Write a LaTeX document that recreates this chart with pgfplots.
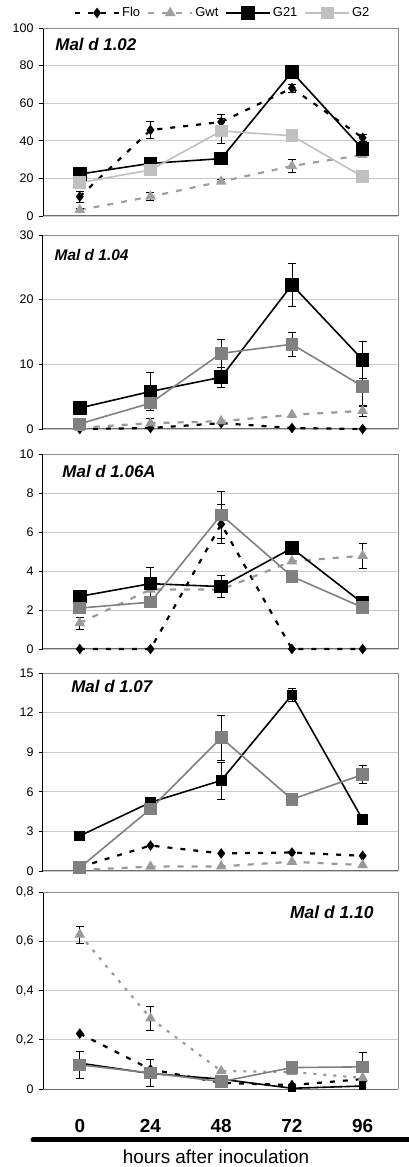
\documentclass[border=0pt]{standalone}
\usepackage{pgfplots}
\pgfplotsset{compat=1.18}
\usepackage{fontspec}
\setmainfont{Liberation Sans}
\definecolor{gridc}{HTML}{C8C8C8}
\definecolor{framec}{HTML}{8C8C8C}
\definecolor{axc}{HTML}{6E6E6E}
\definecolor{gwta}{HTML}{A0A0A0}
\definecolor{gwtb}{HTML}{999999}
\definecolor{g2a}{HTML}{C0C0C0}
\definecolor{g2b}{HTML}{808080}
\tikzset{ttl/.style={font=\fontsize{#1}{20}\selectfont\bfseries\itshape}}
\pgfplotsset{
 panel/.style={scale only axis, width=355bp, xmin=-0.52, xmax=4.5,
   anchor=south west, clip=false,
   axis x line*=bottom, axis y line*=left, xtick=\empty,
   ymajorgrids, grid style={color=gridc, line width=0.6bp},
   y axis line style={black, line width=1bp},
   x axis line style={color=axc, line width=1bp},
   tick align=outside, major tick length=4bp,
   ytick style={black, line width=0.8bp},
   yticklabel style={font=\fontsize{12.5}{14}\selectfont, xshift=-2bp},
   /pgf/number format/assume math mode=true},
 flo/.style={black, line width=2.2bp, dash pattern=on 5bp off 8bp, mark=diamond*, mark size=3.5bp, mark options={solid, fill=black}},
 gwt/.style={line width=2.2bp, dash pattern=on 6bp off 8bp, mark=triangle*, mark size=4bp, mark options={solid}},
 g21/.style={black, line width=1.6bp, mark=square*, mark size=6bp, mark options={solid, fill=black}},
 g2/.style={line width=1.6bp, mark=square*, mark size=5.5bp, mark options={solid}},
 eb/.style={draw=none, mark=none, forget plot,
   error bars/.cd, y dir=both, y explicit,
   error bar style={draw=black, solid, line width=0.8bp},
   error mark options={rotate=90, draw=black, mark size=4bp, solid, line width=0.8bp}},
}
\newcommand{\frameTR}{\draw[color=framec, line width=0.8bp] (rel axis cs:0,1) -- (rel axis cs:1,1) -- (rel axis cs:1,0);}
\begin{document}
\begin{tikzpicture}
\useasboundingbox (0,0) rectangle (409bp,1167bp);
% ---------- Panel 1 : Mal d 1.02
\begin{axis}[panel, at={(43bp,951bp)}, height=188bp, ymin=0, ymax=100, ytick={0,20,40,60,80,100},
  legend columns=4,
  legend style={at={(0.506,1.08)}, anchor=center, draw=none, fill=white,
    font=\fontsize{13}{15}\selectfont, inner ysep=6bp, inner xsep=2bp,
    /tikz/every even column/.append style={column sep=5bp}},
  legend image code/.code={\draw[mark repeat=2,mark phase=2,#1] plot coordinates {(0bp,0bp) (22bp,0bp) (44bp,0bp)};}]
\frameTR
\addplot[flo] coordinates {(0,10.3) (1,45.7) (2,50) (3,68) (4,41.6)};
\addplot[gwt, color=gwta] coordinates {(0,3.2) (1,10.3) (2,18.3) (3,26.6) (4,32.5)};
\addplot[g21] coordinates {(0,22.3) (1,28) (2,30.5) (3,76.6) (4,35.6)};
\addplot[g2, color=g2a] coordinates {(0,17.7) (1,24.5) (2,45.2) (3,42.7) (4,20.9)};
\addplot[eb] coordinates {(0,10.3) +- (0,3) (1,45.7) +- (0,4.4) (2,50) +- (0,4) (3,68) +- (0,2) (4,41.6) +- (0,2)};
\addplot[eb] coordinates {(0,3.2) +- (0,1) (1,10.3) +- (0,2) (2,18.3) +- (0,1) (3,26.6) +- (0,3.5) (4,32.5) +- (0,1)};
\addplot[eb] coordinates {(3,76.6) +- (0,3)};
\addplot[eb] coordinates {(2,45.2) +- (0,6.5) (3,42.7) +- (0,3)};
\legend{Flo,Gwt,G21,G2}
\node[ttl=17, anchor=west] at (rel axis cs:0.025,0.915) {Mal d 1.02};
\end{axis}
% ---------- Panel 2 : Mal d 1.04
\begin{axis}[panel, at={(43bp,738bp)}, height=194bp, ymin=0, ymax=30, ytick={0,10,20,30}]
\frameTR
\addplot[flo] coordinates {(0,0) (1,0.15) (2,0.9) (3,0.15) (4,0)};
\addplot[gwt, color=gwtb] coordinates {(0,0.2) (1,0.9) (2,1.2) (3,2.2) (4,2.8)};
\addplot[g21] coordinates {(0,3.25) (1,5.8) (2,8.0) (3,22.3) (4,10.7)};
\addplot[g2, color=g2b] coordinates {(0,0.8) (1,4.0) (2,11.7) (3,13.1) (4,6.6)};
\addplot[eb] coordinates {(1,0.9) +- (0,0.8) (4,2.8) +- (0,0.85)};
\addplot[eb] coordinates {(1,5.8) +- (0,2.9) (2,8.0) +- (0,1.5) (3,22.3) +- (0,3.3) (4,10.7) +- (0,2.9)};
\addplot[eb] coordinates {(2,11.7) +- (0,2.2) (3,13.1) +- (0,1.9) (4,6.6) +- (0,3.1)};
\node[ttl=15.5, anchor=west] at (rel axis cs:0.023,0.897) {Mal d 1.04};
\end{axis}
% ---------- Panel 3 : Mal d 1.06A
\begin{axis}[panel, at={(43bp,518bp)}, height=195bp, ymin=0, ymax=10, ytick={0,2,4,6,8,10}]
\frameTR
\addplot[flo] coordinates {(0,0) (1,0) (2,6.4) (3,0) (4,0)};
\addplot[gwt, color=gwtb] coordinates {(0,1.33) (1,3.05) (2,3.05) (3,4.5) (4,4.78)};
\addplot[g21] coordinates {(0,2.7) (1,3.35) (2,3.2) (3,5.17) (4,2.35)};
\addplot[g2, color=g2b] coordinates {(0,2.1) (1,2.4) (2,6.88) (3,3.72) (4,2.13)};
\addplot[eb] coordinates {(2,6.4) +- (0,1.0)};
\addplot[eb] coordinates {(0,1.33) +- (0,0.3) (4,4.78) +- (0,0.65)};
\addplot[eb] coordinates {(1,3.35) +- (0,0.85) (2,3.2) +- (0,0.55)};
\addplot[eb] coordinates {(2,6.88) +- (0,1.2) (3,3.72) +- (0,0.3)};
\node[ttl=17, anchor=west] at (rel axis cs:0.045,0.909) {Mal d 1.06A};
\end{axis}
% ---------- Panel 4 : Mal d 1.07
\begin{axis}[panel, at={(43bp,296bp)}, height=198bp, ymin=0, ymax=15, ytick={0,3,6,9,12,15}]
\frameTR
\addplot[flo] coordinates {(0,0.3) (1,1.93) (2,1.33) (3,1.4) (4,1.15)};
\addplot[gwt, color=gwtb] coordinates {(0,0.08) (1,0.33) (2,0.35) (3,0.7) (4,0.45)};
\addplot[g21, mark size=4.5bp] coordinates {(0,2.66) (1,5.2) (2,6.86) (3,13.34) (4,3.9)};
\addplot[g2, color=g2b] coordinates {(0,0.25) (1,4.7) (2,10.1) (3,5.43) (4,7.3)};
\addplot[eb] coordinates {(1,5.2) +- (0,0.3) (2,6.86) +- (0,1.4) (3,13.34) +- (0,0.5)};
\addplot[eb] coordinates {(2,10.1) +- (0,1.7) (4,7.3) +- (0,0.7)};
\node[ttl=17, anchor=west] at (rel axis cs:0.07,0.934) {Mal d 1.07};
\end{axis}
% ---------- Panel 5 : Mal d 1.10
\begin{axis}[panel, at={(43bp,78bp)}, height=197bp, ymin=0, ymax=0.8,
  ytick={0,0.2,0.4,0.6,0.8}, yticklabels={0,{0,2},{0,4},{0,6},{0,8}},
  xtick={0,1,2,3,4}, xticklabels={0,24,48,72,96}, xtick style={draw=none},
  xticklabel style={font=\fontsize{19}{22}\selectfont\bfseries, anchor=center, yshift=-33bp}]
\frameTR
\addplot[flo] coordinates {(0,0.225) (1,0.08) (2,0.025) (3,0.016) (4,0.04)};
\addplot[gwt, color=gwtb, dash pattern=on 3bp off 7bp] coordinates {(0,0.627) (1,0.287) (2,0.073) (3,0.069) (4,0.045)};
\addplot[g21, mark size=3bp] coordinates {(0,0.105) (1,0.063) (2,0.04) (3,0.003) (4,0.012)};
\addplot[g2, color=g2b] coordinates {(0,0.098) (1,0.065) (2,0.03) (3,0.087) (4,0.09)};
\addplot[eb] coordinates {(0,0.627) +- (0,0.035) (1,0.287) +- (0,0.05)};
\addplot[eb] coordinates {(0,0.098) +- (0,0.055) (1,0.065) +- (0,0.055) (4,0.09) +- (0,0.06)};
\node[ttl=17.5, anchor=east] at (rel axis cs:0.941,0.898) {Mal d 1.10};
\end{axis}
\draw[line width=5bp, line cap=round] (33bp,27bp) -- (412bp,27bp);
\node[font=\fontsize{19}{22}\selectfont] at (216bp,10bp) {hours after inoculation};
\end{tikzpicture}
\end{document}
